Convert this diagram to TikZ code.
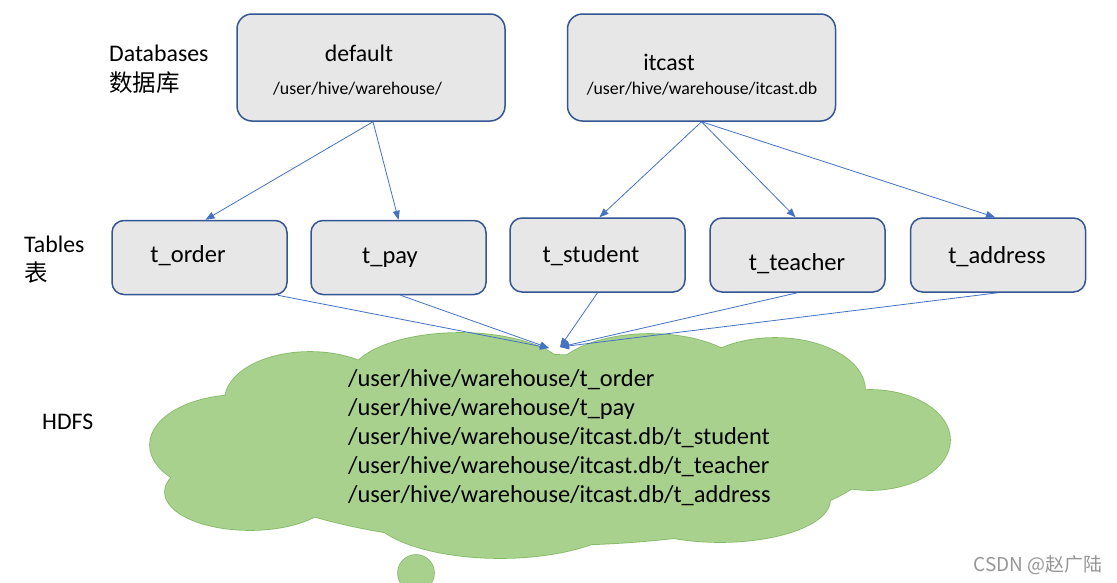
\documentclass[tikz,border=0pt]{standalone}
\usepackage{fontspec}
\setmainfont{Carlito}
\newfontfamily\cjk{Noto Sans CJK SC}
\usetikzlibrary{arrows.meta}
\definecolor{boxfill}{RGB}{231,231,231}
\definecolor{boxline}{RGB}{52,86,148}
\definecolor{arrowc}{RGB}{68,114,196}
\definecolor{cloudfill}{RGB}{169,209,142}
\definecolor{cloudline}{RGB}{130,186,100}
\definecolor{wm}{RGB}{150,150,150}
\tikzset{
  dbbox/.style={draw=boxline, fill=boxfill, line width=1.5pt, rounded corners=15pt, minimum width=268pt, minimum height=107pt, inner sep=0pt},
  tblbox/.style={draw=boxline, fill=boxfill, line width=1.5pt, rounded corners=12pt, minimum width=175pt, minimum height=74pt, inner sep=0pt},
  tblname/.style={font=\fontsize{24.5}{28}\selectfont, inner sep=0pt},
  dbname/.style={font=\fontsize{23.8}{27}\selectfont, inner sep=0pt},
  dbpath/.style={font=\fontsize{17.8}{21}\selectfont, inner sep=0pt},
  lbl/.style={font=\fontsize{23.8}{27}\selectfont, inner sep=0pt, anchor=west},
  cjklbl/.style={font=\cjk\fontsize{23.5}{27}\selectfont, inner sep=0pt, anchor=west},
  hpath/.style={font=\fontsize{24.4}{28}\selectfont, inner sep=0pt, anchor=west},
  arr/.style={draw=arrowc, line width=0.8pt, -{Triangle[length=9pt,width=7pt]}},
  cloudedge/.style={draw=cloudline, line width=1.6pt},
  cloudbody/.style={fill=cloudfill}
}
\begin{document}
\begin{tikzpicture}[x=1pt,y=-1pt]
\useasboundingbox (0,0) rectangle (1117,582);
\fill[white] (0,0) rectangle (1117,582);

% cloud
\foreach \cx/\cy/\rx/\ry in {550/450/330/95, 240/445/90/50, 310/400/85/48, 460/378/110/45, 650/382/100/48, 775/390/90/52, 870/440/80/50, 250/492/85/38, 500/510/130/48, 720/500/110/42}
  \path[cloudedge] (\cx,\cy) ellipse [x radius=\rx pt, y radius=\ry pt];
\path[cloudedge] (416,573) circle [radius=18pt];
\foreach \cx/\cy/\rx/\ry in {550/450/330/95, 240/445/90/50, 310/400/85/48, 460/378/110/45, 650/382/100/48, 775/390/90/52, 870/440/80/50, 250/492/85/38, 500/510/130/48, 720/500/110/42}
  \path[cloudbody] (\cx,\cy) ellipse [x radius=\rx pt, y radius=\ry pt];
\path[cloudbody] (416,573) circle [radius=18pt];

\coordinate (hin1) at (549,348);
\coordinate (hin2) at (560,347);

% database boxes
\node[dbbox] (default) at (371,67.5) {};
\node[dbbox] (itcast) at (701.5,67.5) {};
\node[dbname] (defname) at (359,53) {default};
\node[dbpath] (defpath) at (357.5,89) {/user/hive/warehouse/};
\node[dbname] (itname) at (669,62) {itcast};
\node[dbpath] (itpath) at (702,89) {/user/hive/warehouse/itcast.db};

% table boxes
\node[tblbox] (torder) at (199.5,257.5) {};
\node[tblbox] (tpay) at (398.5,257.5) {};
\node[tblbox] (tstudent) at (597.5,255) {};
\node[tblbox] (tteacher) at (797.5,255) {};
\node[tblbox] (taddress) at (998,255) {};
\node[tblname] at (188,256) {t\_order};
\node[tblname] at (390,258) {t\_pay};
\node[tblname] at (591,256) {t\_student};
\node[tblname] at (797,264) {t\_teacher};
\node[tblname] at (997,257) {t\_address};

% labels
\node[lbl] (ldb) at (109,53) {Databases};
\node[cjklbl] (ldbcn) at (109,83) {数据库};
\node[lbl] (ltb) at (24,244) {Tables};
\node[cjklbl] (ltbcn) at (24,273) {表};
\node[lbl] (lhdfs) at (42,422) {HDFS};

% HDFS paths
\node[hpath] (p1) at (348,380) {/user/hive/warehouse/t\_order};
\node[hpath] (p2) at (348,409) {/user/hive/warehouse/t\_pay};
\node[hpath] (p3) at (348,438) {/user/hive/warehouse/itcast.db/t\_student};
\node[hpath] (p4) at (348,467) {/user/hive/warehouse/itcast.db/t\_teacher};
\node[hpath] (p5) at (348,496) {/user/hive/warehouse/itcast.db/t\_address};

% arrows db -> tables
\draw[arr] ([xshift=2pt]default.south) -- ([xshift=6pt]torder.north);
\draw[arr] ([xshift=2pt]default.south) -- ([xshift=0pt]tpay.north);
\draw[arr] (itcast.south) -- ([xshift=2pt]tstudent.north);
\draw[arr] (itcast.south) -- ([xshift=-2pt]tteacher.north);
\draw[arr] (itcast.south) -- ([xshift=-3pt]taddress.north);

% arrows tables -> hdfs
\draw[arr] ([xshift=-10pt]torder.south east) -- (hin1);
\draw[arr] ([xshift=2pt]tpay.south) -- (hin1);
\draw[arr] (tstudent.south) -- (hin2);
\draw[arr] (tteacher.south) -- (hin2);
\draw[arr] (taddress.south) -- (hin2);

% watermark
\node[font=\cjk\fontsize{19}{22}\selectfont, text=wm, anchor=east, inner sep=0pt] (wmark) at (1103,565) {CSDN @赵广陆};
\end{tikzpicture}
\end{document}
